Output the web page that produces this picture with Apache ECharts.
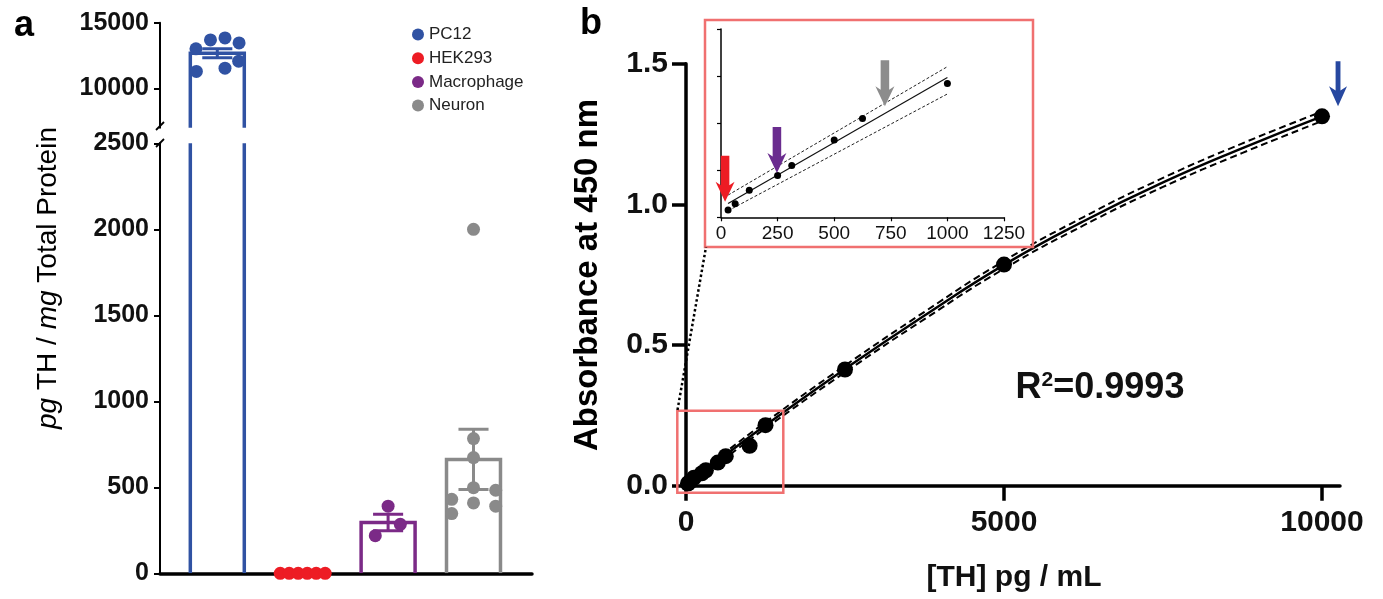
<!DOCTYPE html>
<html><head><meta charset="utf-8">
<script src="https://cdn.jsdelivr.net/npm/echarts@6/dist/echarts.min.js"></script>
<style>html,body{margin:0;padding:0;background:#fff}#c{width:1383px;height:599px}</style>
</head><body><div id="c"></div>
<script>
// ---------- Panel a data ----------
const groups = ['PC12', 'HEK293', 'Macrophage', 'Neuron'];
const groupColors = ['#3052a3', '#ed1c24', '#7b2a87', '#8a8a8a'];
const barMeans = [12670, 0, 295, 662];
const barSems = [345, 0, 48, 175];
const pc12Values = [13008, 13689, 13841, 13462, 11288, 11538, 12068];
const pc12Jitter = [-0.25, -0.08, 0.09, 0.255, -0.245, 0.09, 0.25];
const hekValues = [0, 0, 0, 0, 0, 0];
const hekJitter = [-0.263, -0.158, -0.053, 0.053, 0.158, 0.263];
const macValues = [390, 285, 219];
const macJitter = [0, 0.143, -0.15];
const neuronValues = [2000, 783, 673, 498, 430, 483, 409, 390, 347];
const neuronJitter = [0, 0, 0, 0, -0.255, 0.26, 0, 0.26, -0.255];
const upperTicks = [10000, 15000];

// ---------- Panel b data ----------
const stdConc = [31.25, 62.5, 125, 250, 312.5, 500, 625, 1000, 1250, 2500, 5000, 10000];
const stdAbs = [0.0078, 0.0143, 0.0286, 0.0443, 0.055, 0.0822, 0.105, 0.142, 0.215, 0.413, 0.786, 1.313];
const fitConc = [0, 625, 1250, 2500, 3750, 5000, 6250, 7500, 8750, 10000];
const fitAbs = [0.005, 0.11, 0.215, 0.415, 0.605, 0.785, 0.94, 1.078, 1.2, 1.313];
const fitUpper = [0.014, 0.12, 0.226, 0.427, 0.618, 0.799, 0.955, 1.094, 1.217, 1.33];
const fitLower = [-0.004, 0.10, 0.204, 0.403, 0.592, 0.771, 0.925, 1.062, 1.183, 1.296];
const insetFitConc = [31.25, 1000];
const insetFitAbs = [0.0147, 0.1485];
const insetUpper = [0.0236, 0.160];
const insetLower = [0.007, 0.131];
const insetArrowConc = [18, 247, 724];
const insetArrowAbs = [0.0164, 0.047, 0.118];
const insetArrowColors = ['#ed1c24', '#6a2c8f', '#8c8c8c'];
const mainArrow = [10252, 1.349];
const mainTicksX = [0, 5000, 10000];

const FONT = '"Liberation Sans", Arial, Helvetica, sans-serif';
const groupPoints = [
  [pc12Values, pc12Jitter], [hekValues, hekJitter], [macValues, macJitter], [neuronValues, neuronJitter]
];

const chart = echarts.init(document.getElementById('c'), null, {renderer: 'canvas'});

function barItem(params, api) {
  const x = api.value(0), m = api.value(1), s = api.value(2);
  if (!(m > 0)) return null;
  const color = groupColors[params.dataIndex];
  const c = (a, b) => api.coord([a, b]);
  const hw = 0.316, cw = 0.176;
  const st = {stroke: color, lineWidth: 3.5, fill: null};
  const lo = c(x, m - s), hi = c(x, m + s);
  const l1 = c(x - cw, m - s), r1 = c(x + cw, m - s);
  const l2 = c(x - cw, m + s), r2 = c(x + cw, m + s);
  return {type: 'group', children: [
    {type: 'polyline', shape: {points: [c(x - hw, 0), c(x - hw, m), c(x + hw, m), c(x + hw, 0)]}, style: st},
    {type: 'line', shape: {x1: lo[0], y1: lo[1], x2: hi[0], y2: hi[1]}, style: {stroke: color, lineWidth: 3}},
    {type: 'line', shape: {x1: l1[0], y1: l1[1], x2: r1[0], y2: r1[1]}, style: {stroke: color, lineWidth: 3}},
    {type: 'line', shape: {x1: l2[0], y1: l2[1], x2: r2[0], y2: r2[1]}, style: {stroke: color, lineWidth: 3}}
  ]};
}

const barData = groups.map((g, i) => [i, barMeans[i], barSems[i]]);
const series = [];
[0, 1].forEach(gi => {
  series.push({type: 'custom', xAxisIndex: gi, yAxisIndex: gi, clip: true, z: 2,
    renderItem: barItem, data: barData, silent: true});
  groups.forEach((g, i) => {
    const [vals, jit] = groupPoints[i];
    series.push({type: 'scatter', name: g, xAxisIndex: gi, yAxisIndex: gi, z: 3, clip: true,
      symbolSize: 13, itemStyle: {color: groupColors[i], opacity: 1},
      data: vals.map((v, k) => [i + jit[k], v]), silent: true});
  });
});

const arrowPath = 'path://M5.5,0L14.5,0L14.5,29.5L20,26L10,46L0,26L5.5,29.5Z';
const arrowPathThin = 'path://M7.3,0L12.7,0L12.7,30L20,25.5L10,46L0,25.5L7.3,30Z';

// Panel b main
series.push(
  {type: 'line', xAxisIndex: 2, yAxisIndex: 2, data: fitConc.map((x, i) => [x, fitUpper[i]]), smooth: true, showSymbol: false, z: 2,
    lineStyle: {color: '#000', width: 2, type: [7, 4]}, silent: true},
  {type: 'line', xAxisIndex: 2, yAxisIndex: 2, data: fitConc.map((x, i) => [x, fitLower[i]]), smooth: true, showSymbol: false, z: 2,
    lineStyle: {color: '#000', width: 2, type: [7, 4]}, silent: true},
  {type: 'line', xAxisIndex: 2, yAxisIndex: 2, data: fitConc.map((x, i) => [x, fitAbs[i]]), smooth: true, showSymbol: false, z: 2,
    lineStyle: {color: '#000', width: 2.5}, silent: true},
  {type: 'scatter', xAxisIndex: 2, yAxisIndex: 2, data: stdConc.map((x, i) => [x, stdAbs[i]]), symbolSize: 16, z: 3,
    itemStyle: {color: '#000', opacity: 1}, silent: true},
  {type: 'scatter', xAxisIndex: 2, yAxisIndex: 2, data: [mainArrow], symbol: arrowPathThin, symbolSize: [18, 45],
    symbolOffset: [0, '-50%'], z: 4, itemStyle: {color: '#2748a0', opacity: 1}, silent: true, clip: false}
);
// Panel b inset
series.push(
  {type: 'line', xAxisIndex: 3, yAxisIndex: 3, data: insetFitConc.map((x, i) => [x, insetUpper[i]]), showSymbol: false, z: 2,
    lineStyle: {color: '#222', width: 1, type: [3, 2]}, silent: true},
  {type: 'line', xAxisIndex: 3, yAxisIndex: 3, data: insetFitConc.map((x, i) => [x, insetLower[i]]), showSymbol: false, z: 2,
    lineStyle: {color: '#222', width: 1, type: [3, 2]}, silent: true},
  {type: 'line', xAxisIndex: 3, yAxisIndex: 3, data: insetFitConc.map((x, i) => [x, insetFitAbs[i]]), showSymbol: false, z: 2,
    lineStyle: {color: '#111', width: 1.2}, silent: true},
  {type: 'scatter', xAxisIndex: 3, yAxisIndex: 3, data: stdConc.map((x, i) => [x, stdAbs[i]]), symbolSize: 7, z: 3,
    itemStyle: {color: '#000', opacity: 1}, silent: true},
  {type: 'scatter', xAxisIndex: 3, yAxisIndex: 3, symbol: arrowPath, symbolSize: [19, 46], symbolOffset: [0, '-50%'], z: 4, clip: false,
    data: insetArrowConc.map((x, i) => ({value: [x, insetArrowAbs[i]], itemStyle: {color: insetArrowColors[i]}})),
    itemStyle: {opacity: 1}, silent: true}
);

const aXMin = -0.671, aXMax = 3.685;
const plain = v => String(v);
const tickLbl = (size, weight) => ({fontSize: size, fontWeight: weight, color: '#111', fontFamily: FONT});

const option = {
  animation: false,
  backgroundColor: '#fff',
  grid: [
    {left: 160, top: 22.7, width: 372, height: 105},
    {left: 160, top: 143.3, width: 372, height: 430},
    {left: 686, top: 63.7, width: 654, height: 422},
    {left: 721, top: 29, width: 283, height: 188.3}
  ],
  xAxis: [
    {gridIndex: 0, type: 'value', min: aXMin, max: aXMax, show: false},
    {gridIndex: 1, type: 'value', min: aXMin, max: aXMax, axisLine: {show: true, onZero: false, lineStyle: {color: '#000', width: 3.5}},
      axisTick: {show: false}, axisLabel: {show: false}, splitLine: {show: false}},
    {gridIndex: 2, type: 'value', min: 0, max: 10283,
      axisLine: {show: true, lineStyle: {color: '#000', width: 3.5}},
      axisTick: {show: true, length: 15, lineStyle: {color: '#000', width: 3.5}, customValues: mainTicksX},
      axisLabel: {show: true, margin: 22, customValues: mainTicksX, formatter: plain, ...tickLbl(30, 'bold')}, splitLine: {show: false}},
    {gridIndex: 3, type: 'value', min: 0, max: 1250, interval: 250,
      axisLine: {show: true, lineStyle: {color: '#000', width: 1.5}},
      axisTick: {show: true, length: 4, lineStyle: {color: '#000', width: 1.2}},
      axisLabel: {show: true, margin: 7, formatter: plain, ...tickLbl(19, 'normal')}, splitLine: {show: false}}
  ],
  yAxis: [
    {gridIndex: 0, type: 'value', min: 7000, max: 15000,
      axisLine: {show: true, onZero: false, lineStyle: {color: '#000', width: 2}},
      axisTick: {show: true, length: 6, lineStyle: {color: '#000', width: 2}, customValues: upperTicks},
      axisLabel: {show: true, margin: 11, customValues: upperTicks, formatter: plain, ...tickLbl(25, 'bold')}, splitLine: {show: false}},
    {gridIndex: 1, type: 'value', min: 0, max: 2500, interval: 500,
      axisLine: {show: true, onZero: false, lineStyle: {color: '#000', width: 2}},
      axisTick: {show: true, length: 6, lineStyle: {color: '#000', width: 2}},
      axisLabel: {show: true, margin: 11, formatter: plain, ...tickLbl(25, 'bold')}, splitLine: {show: false}},
    {gridIndex: 2, type: 'value', min: 0, max: 1.5, interval: 0.5,
      axisLine: {show: true, lineStyle: {color: '#000', width: 3.5}},
      axisTick: {show: true, length: 14, lineStyle: {color: '#000', width: 3.5}},
      axisLabel: {show: true, margin: 18, formatter: v => v.toFixed(1), ...tickLbl(30, 'bold')}, splitLine: {show: false}},
    {gridIndex: 3, type: 'value', min: 0, max: 0.2, interval: 0.05,
      axisLine: {show: true, lineStyle: {color: '#000', width: 1.5}},
      axisTick: {show: true, length: 4, lineStyle: {color: '#000', width: 1.2}},
      axisLabel: {show: false}, splitLine: {show: false}}
  ],
  legend: {
    orient: 'vertical', left: 407, top: 21, icon: 'circle', itemWidth: 12, itemHeight: 12, itemGap: 6.7,
    selectedMode: false, data: groups,
    textStyle: {fontSize: 17, color: '#222', fontFamily: FONT, lineHeight: 17}
  },
  graphic: [
    {type: 'text', z: 100, style: {text: 'a', x: 24, y: 26, align: 'center', verticalAlign: 'middle', font: 'bold 36px ' + FONT, fill: '#000'}},
    {type: 'text', z: 100, style: {text: 'b', x: 591, y: 24, align: 'center', verticalAlign: 'middle', font: 'bold 36px ' + FONT, fill: '#000'}},
    {type: 'text', z: 100, x: 48, y: 278, rotation: Math.PI / 2,
      style: {text: '{i|pg}{n| TH / }{i|mg}{n| Total Protein}', align: 'center', verticalAlign: 'middle',
        rich: {i: {fontStyle: 'italic', fontSize: 28, fontFamily: FONT, fill: '#000'}, n: {fontSize: 28, fontFamily: FONT, fill: '#000'}}}},
    {type: 'text', z: 100, x: 588, y: 275, rotation: Math.PI / 2,
      style: {text: 'Absorbance at 450 nm', align: 'center', verticalAlign: 'middle', font: 'bold 33px ' + FONT, fill: '#000'}},
    {type: 'text', z: 100, style: {text: '[TH] pg / mL', x: 1014, y: 578, align: 'center', verticalAlign: 'middle', font: 'bold 30px ' + FONT, fill: '#111'}},
    {type: 'text', z: 100, style: {text: '{r|R}{s|2}{r|=0.9993}', x: 1100, y: 388, align: 'center', verticalAlign: 'middle',
      rich: {r: {fontSize: 36, fontWeight: 'bold', fontFamily: FONT, fill: '#111'},
             s: {fontSize: 21, fontWeight: 'bold', fontFamily: FONT, fill: '#111', verticalAlign: 'top'}}}},
    // axis break marks
    {type: 'line', z: 100, shape: {x1: 156, y1: 130, x2: 164, y2: 122}, style: {stroke: '#000', lineWidth: 1.8}},
    {type: 'line', z: 100, shape: {x1: 156, y1: 147, x2: 164, y2: 139}, style: {stroke: '#000', lineWidth: 1.8}},
    // zoom boxes
    {type: 'rect', z: 100, shape: {x: 677.3, y: 410.7, width: 106, height: 82}, style: {stroke: '#f07070', lineWidth: 2.5, fill: null}},
    {type: 'rect', z: 100, shape: {x: 705, y: 20, width: 328, height: 227}, style: {stroke: '#f07070', lineWidth: 2.5, fill: null}},
    {type: 'line', z: 100, shape: {x1: 677.5, y1: 410, x2: 706, y2: 247}, style: {stroke: '#000', lineWidth: 2.5, lineDash: [2.5, 2.5]}}
  ],
  series: series
};
chart.setOption(option);
</script>
</body></html>
